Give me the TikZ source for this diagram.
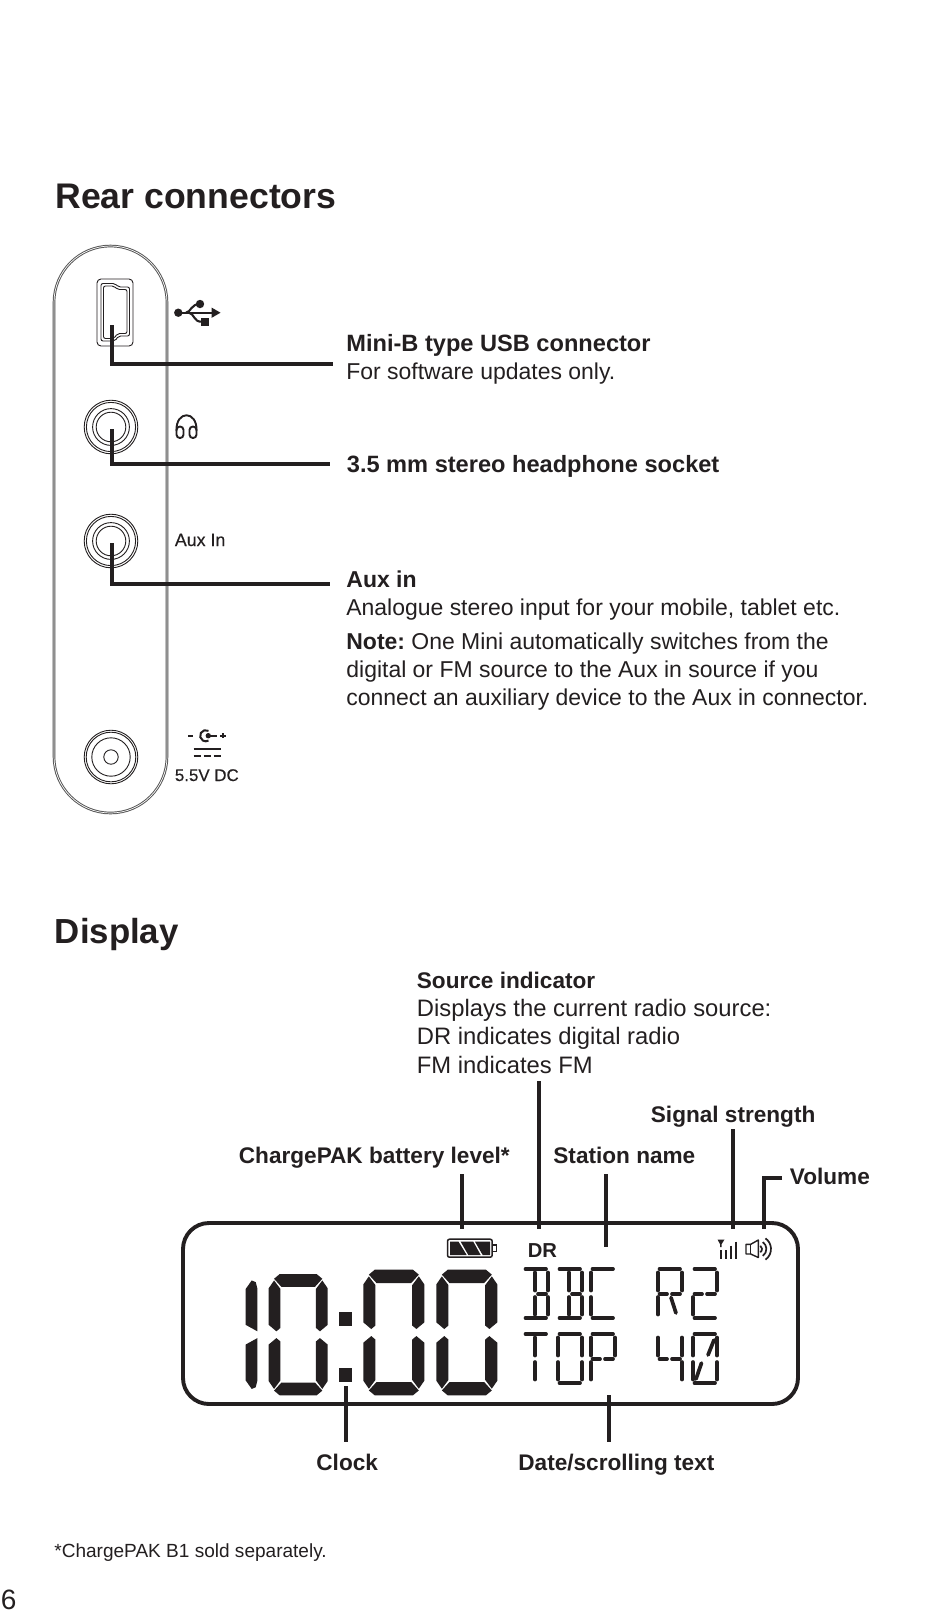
\documentclass[tikz,border=0pt]{standalone}
\usepackage{fontspec}
\setmainfont{Liberation Sans}
\newfontfamily\medfont[FakeBold=.3]{Liberation Sans}
\definecolor{ink}{HTML}{231F20}
\newcommand{\fsz}[1]{\fontsize{#1}{#1}\selectfont}
\tikzset{
  txt/.style={anchor=base west,inner sep=0pt,text=ink,font=\fsz{11.48}},
  stxt/.style={txt,font=\fsz{11.9}},
  btxt/.style={txt,font=\fsz{11.3}\bfseries},
  rtxt/.style={txt,font=\fsz{11.8}\bfseries},
  head/.style={txt,font=\fsz{17.8}\bfseries},
  leader/.style={draw=ink,line width=1.9pt,line join=miter},
  panel/.style={draw=black!68,line width=1.3pt},
  panelin/.style={draw=white,line width=.35pt},
  hair/.style={draw=ink,line width=.45pt},
  lcdbar/.style={draw=ink,line width=1.85pt,line cap=round},
  bigseg/.style={fill=ink},
}
\frenchspacing
% 14-segment glyph parts (origin at the top-left of a 24 by 49 cell)
\newcommand{\segA}{\draw[lcdbar] (1.5,0)--(22,0);}
\newcommand{\segD}{\draw[lcdbar] (1.5,49)--(22,49);}
\newcommand{\segF}{\draw[lcdbar] (0,3.5)--(0,21.5);}
\newcommand{\segE}{\draw[lcdbar] (0,28)--(0,45.5);}
\newcommand{\segB}{\draw[lcdbar] (24,3.5)--(24,21.5);}
\newcommand{\segC}{\draw[lcdbar] (24,28)--(24,45.5);}
\newcommand{\segGL}{\draw[lcdbar] (1.5,25)--(9,25);}
\newcommand{\segGR}{\draw[lcdbar] (14,25)--(22,25);}
\newcommand{\segI}{\draw[lcdbar] (11,3.5)--(11,21.5);}
\newcommand{\segL}{\draw[lcdbar] (11,28)--(11,45.5);}
\newcommand{\segJ}{\draw[lcdbar] (21,6)--(15,21);}
\newcommand{\segM}{\draw[lcdbar] (8.5,29)--(3,45);}
\newcommand{\segN}{\draw[lcdbar] (13,28.5)--(18,44);}
\newcommand{\lcdcell}[3]{\begin{scope}[shift={(#1,#2)}]#3\end{scope}}
% large seven-segment parts
\newcommand{\bigA}{\fill[bigseg] (16,14)--(33,0)--(143,0)--(160,14)--(138,38)--(38,38)--cycle;}
\newcommand{\bigD}{\fill[bigseg] (16,344)--(33,358)--(143,358)--(160,344)--(138,320)--(38,320)--cycle;}
\newcommand{\bigF}{\fill[bigseg] (0,42)--(16,19)--(35,44)--(35,159)--(23,169)--(0,150)--cycle;}
\newcommand{\bigB}{\fill[bigseg] (176,42)--(160,19)--(141,44)--(141,159)--(153,169)--(176,150)--cycle;}
\newcommand{\bigE}{\fill[bigseg] (0,316)--(16,339)--(35,314)--(35,199)--(23,189)--(0,208)--cycle;}
\newcommand{\bigC}{\fill[bigseg] (176,316)--(160,339)--(141,314)--(141,199)--(153,189)--(176,208)--cycle;}
\newcommand{\bigzero}{\bigA\bigB\bigC\bigD\bigE\bigF}
\begin{document}
\begin{tikzpicture}[x=.5pt,y=-.5pt]
\useasboundingbox (0,0) rectangle (950,1624);
\fill[white] (0,0) rectangle (950,1624);

% ---------- headings
\node[head] (rearhead) at (55,208) {Rear connectors};
\node[head,font=\fsz{17.4}\bfseries] (disphead) at (54.5,943) {Display};

% ---------- rear panel
\path[panel] (54,302.5) arc[start angle=180,end angle=0,radius=28.25pt] -- (167,756.5) arc[start angle=0,end angle=-180,radius=28.25pt] -- cycle;
\path[panelin] (54,302.5) arc[start angle=180,end angle=0,radius=28.25pt] -- (167,756.5) arc[start angle=0,end angle=-180,radius=28.25pt] -- cycle;

% USB socket
\draw[hair,rounded corners=2pt] (97,279) rectangle (133,346);
\draw[hair,rounded corners=1pt] (101,283.5)--(115,283.5)--(118.5,287)--(129.5,287)--(129.5,336)--(118.5,336)--(115,341)--(101,341)--cycle;
\draw[hair,rounded corners=1pt] (103.5,286)--(114,286)--(117.5,289.5)--(127,289.5)--(127,333.5)--(117.5,333.5)--(114,338.5)--(103.5,338.5)--cycle;

% round sockets
\foreach \cy in {427,541}
  \foreach \r in {13.4,12.3,9.2,7.4}
    \draw[hair] (111,\cy) circle[radius=\r pt];
\foreach \r in {13.4,12.4,9.6,3.6}
  \draw[hair] (111,757) circle[radius=\r pt];

% USB symbol
\fill[ink] (178.3,312.7) circle[radius=2.1pt];
\draw[ink,line width=1.05pt] (178.3,312.7)--(214,312.7);
\fill[ink] (211.5,307.5)--(220.5,312.7)--(211.5,317.9)--cycle;
\draw[ink,line width=1.05pt] (186,312.7) .. controls (191,312) and (191,304) .. (200,304);
\fill[ink] (200,304) circle[radius=2.1pt];
\draw[ink,line width=1.05pt] (189,312.7) .. controls (194,313.5) and (194,321.7) .. (201,321.7);
\fill[ink] (200.5,317.5) rectangle (208.5,325.5);

% headphone symbol
\draw[ink,line width=.95pt] (176.5,431) .. controls (175.5,410) and (197.5,410) .. (196.5,431);
\draw[ink,line width=.95pt,rounded corners=1.7pt] (176.5,426.5) rectangle (183.5,438);
\draw[ink,line width=.95pt,rounded corners=1.7pt] (189.5,426.5) rectangle (196.5,438);

% power symbol
\draw[ink,line width=.9pt] (188.3,735.7)--(193.3,735.7);
\draw[ink,line width=.9pt] (220,735.7)--(225.5,735.7);
\draw[ink,line width=.9pt] (222.7,733)--(222.7,738.4);
\draw[ink,line width=1pt,shift={(205.7,735.7)}] (60:2.8pt) arc[start angle=60,end angle=300,radius=2.8pt];
\fill[ink] (208.3,735.7) circle[radius=1.35pt];
\draw[ink,line width=.9pt] (208.3,735.7)--(216.5,735.7);
\draw[ink,line width=.85pt] (193.5,749)--(220.7,749);
\draw[ink,line width=.85pt] (193.5,755.7)--(200.5,755.7) (203.5,755.7)--(210.5,755.7) (213.5,755.7)--(220.7,755.7);

% panel labels
\node[txt,font=\medfont\fsz{8.9}] (auxlab) at (174.5,546) {Aux In};
\node[txt,font=\medfont\fsz{8.45}] (dclab) at (174.5,781) {5.5V DC};

% rear call-outs
\coordinate (usbp) at (112,325);
\coordinate (usbe) at (333,364);
\coordinate (hpp) at (112,429);
\coordinate (hpe) at (330,464);
\coordinate (auxp) at (112,543);
\coordinate (auxe) at (330,584);
\draw[leader] (usbp) |- (usbe);
\draw[leader] (hpp) |- (hpe);
\draw[leader] (auxp) |- (auxe);

\node[rtxt] (usbt) at (346,351.5) {Mini-B type USB connector};
\node[txt] (usbd) at (346,379) {For software updates only.};
\node[rtxt] (hpt) at (346.5,472) {3.5 mm stereo headphone socket};
\node[rtxt,font=\fsz{11.5}\bfseries] (auxt) at (346,587) {Aux in};
\node[txt] (auxd) at (346,615) {Analogue stereo input for your mobile, tablet etc.};
\node[txt] (n1) at (346,649) {\textbf{Note:} One Mini automatically switches from the};
\node[txt] (n2) at (346,677) {digital or FM source to the Aux in source if you};
\node[txt] (n3) at (346,705) {connect an auxiliary device to the Aux in connector.};

% ---------- display
\draw[draw=ink,line width=1.95pt,rounded corners=13pt] (183,1223) rectangle (798,1404);

% clock digits
\begin{scope}[shift={(245.7,1274)},xscale=.335,yscale=.339]
  \fill[bigseg] (0,44)--(18,19)--(30,24)--(35,44)--(35,169)--(0,150)--cycle;
  \fill[bigseg] (0,314)--(18,339)--(30,334)--(35,314)--(35,189)--(0,208)--cycle;
\end{scope}
\begin{scope}[shift={(268.7,1274)},xscale=.335,yscale=.339]\bigzero\end{scope}
\begin{scope}[shift={(363.3,1269.7)},xscale=.347,yscale=.351]\bigzero\end{scope}
\begin{scope}[shift={(436.3,1269.7)},xscale=.347,yscale=.351]\bigzero\end{scope}
\fill[ink] (339.3,1311.7) rectangle (351.7,1325.7);
\fill[ink] (339.3,1367.7) rectangle (351.7,1381.7);

% station text: BBC R2
\lcdcell{524}{1269}{\segA\segB\segC\segD\segI\segL\segGR}
\lcdcell{558}{1269}{\segA\segB\segC\segD\segI\segL\segGR}
\lcdcell{591}{1269}{\segA\segF\segE\segD}
\lcdcell{658}{1269}{\segA\segB\segF\segE\segGL\segGR\segN}
\lcdcell{693}{1269}{\segA\segB\segGL\segGR\segE\segD}
% TOP 40
\lcdcell{524}{1334}{\segA\segI\segL}
\lcdcell{558}{1334}{\segA\segB\segC\segD\segF\segE}
\lcdcell{591}{1334}{\segA\segB\segF\segE\segGL\segGR}
\lcdcell{658}{1334}{\segF\segGL\segGR\segB\segC}
\lcdcell{693}{1334}{\segA\segB\segC\segD\segF\segE\segJ\segM}

% battery
\draw[ink,line width=.75pt,rounded corners=1pt] (447.5,1239.2) rectangle (492.2,1257.2);
\draw[ink,line width=.75pt] (492.2,1245)--(496.3,1245)--(496.3,1251.5)--(492.2,1251.5);
\fill[ink] (450,1241.7)--(458.5,1241.7)--(466.7,1255)--(450,1255)--cycle;
\fill[ink] (460.7,1241.7)--(473.3,1241.7)--(480.7,1255)--(468.3,1255)--cycle;
\fill[ink] (475,1241.7)--(490,1241.7)--(490,1255)--(482.7,1255)--cycle;
\node[txt,font=\fsz{10.1}\bfseries] (dr) at (527.5,1257) {DR};

% signal icon
\fill[ink] (717.5,1239.5)--(724.5,1239.5)--(721.7,1244)--(721.7,1247)--(720,1247)--(720,1244)--cycle;
\draw[ink,line width=.8pt] (720.7,1250)--(720.7,1259) (725.7,1250)--(725.7,1259) (730.7,1245.7)--(730.7,1259) (735.7,1241.7)--(735.7,1259);

% speaker icon
\draw[ink,line width=.7pt,line join=round] (746,1244.3)--(750.7,1244.3)--(758.3,1240)--(758.3,1257.5)--(750.7,1254)--(746,1254)--cycle;
\draw[ink,line width=.6pt] (750.7,1244.3)--(750.7,1254);
\foreach \r in {2,4.2,6.5}
  \draw[ink,line width=.85pt,shift={(758,1249)}] (-55:\r pt) arc[start angle=-55,end angle=55,radius=\r pt];

% display call-outs
\coordinate (batA) at (461.7,1174); \coordinate (batB) at (461.7,1229);
\coordinate (srcA) at (538.8,1081); \coordinate (srcB) at (538.8,1229);
\coordinate (staA) at (605.7,1174); \coordinate (staB) at (605.7,1247);
\coordinate (sigA) at (733,1129);   \coordinate (sigB) at (733,1229);
\coordinate (volA) at (782,1178);   \coordinate (volB) at (764.3,1229);
\coordinate (clkA) at (345.7,1386); \coordinate (clkB) at (345.7,1442);
\coordinate (datA) at (608.7,1395); \coordinate (datB) at (608.7,1442);
\draw[leader] (batA)--(batB);
\draw[leader] (srcA)--(srcB);
\draw[leader] (staA)--(staB);
\draw[leader] (sigA)--(sigB);
\draw[leader] (volA) -| (volB);
\draw[leader] (clkA)--(clkB);
\draw[leader] (datA)--(datB);

\node[btxt] (src1) at (416.5,988) {Source indicator};
\node[stxt] (src2) at (416.5,1016) {Displays the current radio source:};
\node[stxt] (src3) at (416.5,1044) {DR indicates digital radio};
\node[stxt] (src4) at (416.5,1073) {FM indicates FM};
\node[btxt] (sigt) at (650.5,1122) {Signal strength};
\node[btxt] (batt) at (238.5,1163) {ChargePAK battery level*};
\node[btxt] (stat) at (553,1163) {Station name};
\node[btxt] (volt) at (789.5,1184) {Volume};
\node[btxt] (clkt) at (316,1470) {Clock};
\node[btxt] (datt) at (518,1470) {Date/scrolling text};

% footer
\node[txt,font=\fsz{9.52}] (foot) at (54,1557) {*ChargePAK B1 sold separately.};
\node[txt,font=\fsz{14}] (page) at (0.5,1609) {6};
\end{tikzpicture}
\end{document}
